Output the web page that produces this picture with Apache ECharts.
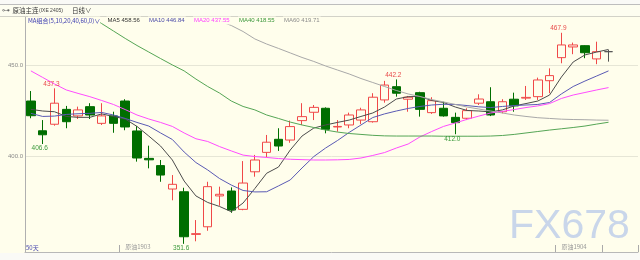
<!DOCTYPE html>
<html><head><meta charset="utf-8">
<script src="https://cdn.jsdelivr.net/npm/echarts@6/dist/echarts.min.js"></script>
<style>html,body{margin:0;padding:0;background:#fffeec}#c{width:640px;height:260px}</style>
</head><body><div id="c"></div>
<script>
// ---- data ----
const opens  = [430.3,413.9,417.5,425.7,422.1,427.2,418.0,422.1,430.3,413.8,398.7,394.7,381.8,380.3,356.8,361.0,378.0,380.7,370.6,391.3,402.0,409.2,408.8,419.5,424.1,426.3,416.0,417.1,419.8,418.9,430.9,438.2,431.3,434.9,423.9,426.3,421.3,420.8,429.1,429.9,424.4,431.3,431.9,432.7,441.5,454.2,460.1,460.8,453.5,457.5];
const closes = [422.2,411.7,429.1,418.9,425.4,422.6,422.1,418.0,416.0,398.9,397.9,389.5,384.4,355.5,357.2,383.1,378.9,370.2,385.1,397.8,407.6,405.5,416.2,421.7,426.8,414.7,416.3,422.6,425.4,432.4,439.1,434.6,432.4,425.7,430.5,422.1,418.4,425.0,431.4,422.6,429.9,427.6,432.3,441.9,444.3,461.2,461.2,456.9,457.5,457.5];
const lows   = [420.8,406.6,416.7,415.3,420.4,420.4,417.1,412.8,414.2,396.9,393.2,385.8,375.6,351.6,353.0,358.8,372.6,368.7,370.1,388.6,399.3,402.8,407.3,417.1,419.8,412.5,413.4,415.3,417.6,418.4,429.4,432.7,424.4,421.7,423.2,421.7,412.0,419.8,428.1,422.0,423.5,424.4,430.9,430.9,434.6,451.1,456.1,453.9,450.6,452.0];
const highs  = [435.8,419.8,437.3,427.6,427.2,429.1,429.1,424.4,431.3,416.5,405.7,397.8,389.5,382.5,364.7,385.8,383.1,382.7,397.2,400.6,411.6,415.3,419.5,429.1,428.1,426.8,419.8,423.9,426.6,434.6,441.4,442.2,433.1,435.4,432.4,429.9,423.9,426.3,434.0,437.9,431.3,434.9,438.6,443.2,448.3,467.9,462.5,461.0,463.0,458.4];

const ma5  = [425.7,424.8,424.4,421.8,421.3,421.3,423.2,421.8,420.4,416.3,411.0,405.5,397.8,386.2,378.0,374.4,372.2,369.3,374.1,382.1,390.5,393.9,403.3,411.0,415.4,417.1,418.5,419.8,421.8,423.7,427.0,431.4,432.7,432.8,430.6,429.5,427.0,425.1,424.8,424.3,425.4,427.6,428.9,430.3,433.6,443.5,451.8,455.7,457.3,458.7];
const ma10 = [423.5,421.8,422.0,422.9,423.3,423.5,424.0,422.6,420.7,418.5,416.5,412.7,409.1,402.2,396.4,392.3,387.6,384.0,381.0,380.2,380.3,383.5,386.8,393.4,399.7,404.4,408.5,413.0,417.1,421.2,423.2,424.8,426.2,427.3,428.1,428.5,428.4,427.8,427.1,426.7,427.3,427.8,428.1,428.4,429.5,434.2,438.3,441.3,444.1,446.9];
const ma20 = [446.9,443.3,439.7,436.4,434.5,432.7,430.6,428.4,425.6,422.6,420.4,418.5,416.3,412.7,409.5,408.0,405.2,402.8,400.5,399.7,399.2,398.6,398.2,398.0,397.8,397.8,397.9,398.1,398.9,400.3,401.9,404.4,406.6,410.5,413.5,416.3,418.2,420.2,422.0,423.7,424.6,425.6,426.7,427.6,428.9,431.7,433.6,435.0,436.4,437.7];
const ma40 = [497.9,493.7,489.6,485.4,481.3,477.2,473.0,468.9,464.8,460.9,457.3,453.7,450.2,446.9,442.4,438.3,434.7,430.3,427.3,425.4,422.6,420.7,418.7,417.1,415.7,414.3,413.2,412.4,411.9,411.4,411.1,411.0,411.0,411.0,411.0,410.9,410.9,410.9,410.9,411.0,411.3,411.9,412.7,413.5,414.3,415.0,415.7,416.5,417.6,418.6];
const ma60 = [514.1,511.6,509.2,506.7,504.2,501.7,499.2,496.8,494.3,491.8,489.3,486.8,484.3,481.9,479.4,476.9,474.4,471.9,468.6,464.5,461.7,459.3,456.8,454.3,452.1,449.6,447.4,445.2,442.7,440.5,438.3,436.1,434.2,432.8,431.1,429.8,428.4,427.0,425.9,424.8,423.7,422.6,421.8,421.1,420.7,420.3,420.1,420.0,419.8,419.7];

const highMarkIdx = [2, 31, 45];
const highMarkVal = [437.3, 442.2, 467.9];
const lowMarkIdx  = [1, 13, 36];
const lowMarkVal  = [406.6, 351.6, 412.0];

const yTickValues = [400, 450];
const monthTickIdx = [8, 45, 49];
const monthTickLabels = ['原油1903', '原油1904', ''];

const slotCount = 52; // 50 trading days + 2 empty slots on the right
const days = Array.from({length: slotCount}, (_, i) => String(i + 1));

const legendNames  = ['MA5', 'MA10', 'MA20', 'MA40', 'MA60'];
const legendValues = ['458.56', '446.84', '437.55', '418.55', '419.71'];
const maSeries = [ma5, ma10, ma20, ma40, ma60];

// ---- styles ----
const BG = '#fffeec';
const UP = '#f04848';
const DOWN = '#006e00';
const maColors = ['#4c4c4c', '#5a5ab4', '#ff4cff', '#55a555', '#a8a8a8'];
const legendColors = ['#333333', '#4a4aa8', '#ff40ff', '#3a963a', '#8c8c8c'];
const legendX = [106.5, 148, 193, 238, 283];
const FONT = '"Liberation Sans", Arial, sans-serif';

const ohlc = opens.map((o, i) => [o, closes[i], lows[i], highs[i]]);

const markData = [];
highMarkIdx.forEach((idx, k) => markData.push({
  coord: [days[idx], highMarkVal[k]], value: highMarkVal[k],
  label: {position: 'top', distance: 1, color: '#e84a4a'}
}));
lowMarkIdx.forEach((idx, k) => markData.push({
  coord: [days[idx], lowMarkVal[k]], value: lowMarkVal[k],
  label: {position: 'bottom', distance: 1, color: '#3c9a3c'}
}));

const graphics = [
  {type: 'rect', shape: {x: 0, y: 0, width: 640, height: 4.5}, style: {fill: '#f9f9f6'}, z: 100},
  {type: 'line', shape: {x1: 0, y1: 4.5, x2: 640, y2: 4.5}, style: {stroke: '#bdbdbd', lineWidth: 1}, z: 101},
  {type: 'rect', shape: {x: 0, y: 5, width: 640, height: 11}, style: {fill: '#fdfdf0'}, z: 100},
  {type: 'line', shape: {x1: 0, y1: 16.5, x2: 640, y2: 16.5}, style: {stroke: '#d2d2c8', lineWidth: 1}, z: 101},
  {type: 'text', style: {text: '⊶', x: 2, y: 11, font: '8px "DejaVu Sans"', fill: '#666', textVerticalAlign: 'middle'}, z: 102},
  {type: 'text', style: {text: '原油主连', x: 12.5, y: 11, font: '6.5px "Noto Sans CJK SC"', fill: '#333', textVerticalAlign: 'middle'}, z: 102},
  {type: 'text', style: {text: '(IXE 2405)', x: 39, y: 11, font: '5px ' + FONT, fill: '#444', textVerticalAlign: 'middle'}, z: 102},
  {type: 'text', style: {text: '日线∨', x: 72, y: 11, font: '6.5px "Noto Sans CJK SC"', fill: '#333', textVerticalAlign: 'middle'}, z: 102},
  {type: 'text', style: {text: 'MA组合(5,10,20,40,60,0)∨', x: 28, y: 20.5, font: '6px "Noto Sans CJK SC"', fill: '#3a3ab0', textVerticalAlign: 'middle', backgroundColor: BG, padding: [1, 0, 1, 0]}, z: 102},
  {type: 'text', style: {text: '50天', x: 26, y: 248, font: '6px "Noto Sans CJK SC"', fill: '#4a4ab0', textVerticalAlign: 'middle'}, z: 102},
  {type: 'rect', shape: {x: 0, y: 253, width: 640, height: 7}, style: {fill: '#fafaf6'}, z: 100},
  {type: 'text', style: {text: 'FX678', x: 509, y: 227, font: '41px ' + FONT, fill: '#c9d6ea', textVerticalAlign: 'middle'}, z: 1}
];
legendNames.forEach((n, k) => graphics.push({
  type: 'text',
  style: {text: n + ' ' + legendValues[k], x: legendX[k], y: 20.5, font: '6px ' + FONT, fill: legendColors[k],
          textVerticalAlign: 'middle', backgroundColor: BG, padding: [1, 1, 1, 1]},
  z: 102
}));

const chart = echarts.init(document.getElementById('c'), null, {renderer: 'canvas'});
chart.setOption({
  animation: false,
  backgroundColor: BG,
  grid: {left: 25, right: 2, top: 17, bottom: 8},
  xAxis: {
    type: 'category', data: days, boundaryGap: true,
    axisLine: {show: true, lineStyle: {color: '#b8b8b8', width: 1}},
    axisTick: {show: true, inside: true, length: 7, lineStyle: {color: '#aaaaaa'},
               interval: (idx) => monthTickIdx.includes(idx)},
    axisLabel: {show: true, inside: true, margin: 2, align: 'left', fontSize: 6, fontFamily: '"Noto Sans CJK SC"', color: '#999',
                interval: (idx) => monthTickIdx.includes(idx),
                formatter: (v, idx) => { const k = monthTickIdx.indexOf(idx); return k >= 0 ? monthTickLabels[k] : ''; }},
    splitLine: {show: false}
  },
  yAxis: {
    type: 'value', min: 347.1, max: 476.6, position: 'left',
    axisLine: {show: true, lineStyle: {color: '#b0b0b0', width: 1}},
    axisTick: {show: false, customValues: yTickValues},
    axisLabel: {show: true, customValues: yTickValues, margin: 2, fontSize: 6, fontFamily: FONT, color: '#8a8a8a',
                formatter: (v) => v.toFixed(1)},
    splitLine: {show: true, lineStyle: {color: '#e6e6d6', width: 1}}
  },
  series: [
    {
      type: 'candlestick', data: ohlc, barWidth: 9, z: 3,
      itemStyle: {color: BG, color0: DOWN, borderColor: UP, borderColor0: DOWN, borderColorDoji: '#555555', borderWidth: 1},
      markPoint: {
        symbol: 'circle', symbolSize: 0, silent: true,
        label: {show: true, fontSize: 6.5, fontFamily: FONT, offset: [-3, 0], formatter: (p) => p.value.toFixed(1)},
        data: markData
      }
    },
    ...maSeries.map((d, k) => ({
      type: 'line', data: d, symbol: 'none', z: 4, silent: true,
      lineStyle: {color: maColors[k], width: 1}
    }))
  ],
  graphic: graphics
});
</script></body></html>
